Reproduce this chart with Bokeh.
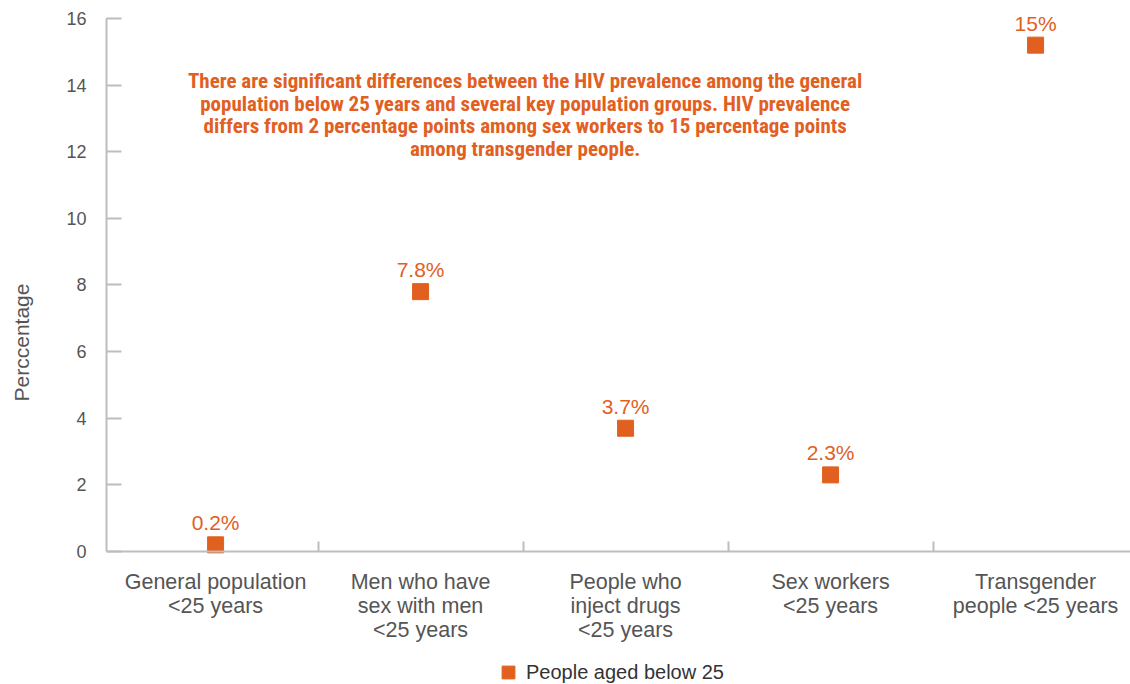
from bokeh.plotting import figure
from bokeh.models import (ColumnDataSource, FixedTicker, Range1d, Legend, LegendItem, LinearAxis)
from bokeh.core.properties import value
from bokeh.embed import file_html
from bokeh.resources import INLINE

categories = ["General population\n<25 years", "Men who have\nsex with men\n<25 years",
              "People who\ninject drugs\n<25 years", "Sex workers\n<25 years",
              "Transgender\npeople <25 years"]
values = [0.2, 7.8, 3.7, 2.3, 15.2]
labels = ["0.2%", "7.8%", "3.7%", "2.3%", "15%"]
series_name = "People aged below 25"
y_ticks = [0, 2, 4, 6, 8, 10, 12, 14, 16]
note = ("There are significant differences between the HIV prevalence among the general\n"
        "population below 25 years and several key population groups. HIV prevalence\n"
        "differs from 2 percentage points among sex workers to 15 percentage points\n"
        "among transgender people.")

ORANGE = "#E1601F"
GREY_AX = "#BDBDBD"
TXT = "#555555"
FONT = "Liberation Sans"

xs = list(range(len(categories)))
src = ColumnDataSource(dict(x=xs, y=values, lab=labels))

p = figure(width=1130, height=684, output_backend="svg", toolbar_location=None,
           x_range=Range1d(-0.532, 4.463), y_range=Range1d(-3.9925, 16.54),
           x_axis_location=None,
           min_border_left=106, min_border_right=0, min_border_top=0, min_border_bottom=0)
p.outline_line_color = None
p.grid.visible = False

r = p.scatter("x", "y", source=src, marker="square", size=16, color=ORANGE)
p.text("x", "y", text="lab", source=src, text_align="center", text_baseline="alphabetic",
       y_offset=-22, text_font=value(FONT), text_font_size="21px", text_color=ORANGE)

p.text(x=[1.51], y=[14.49], text=[note], text_align="center", text_baseline="top",
       text_font=value("Roboto Condensed"), text_font_style="bold",
       text_font_size="21px", text_color=ORANGE, text_line_height=0.95)

# y axis
ya = p.yaxis[0]
ya.ticker = FixedTicker(ticks=y_ticks)
ya.bounds = (0, 16)
ya.axis_line_color = GREY_AX
ya.axis_line_width = 2
ya.major_tick_line_color = GREY_AX
ya.major_tick_line_width = 2
ya.major_tick_in = 15
ya.major_tick_out = 0
ya.minor_tick_line_color = None
ya.major_label_standoff = 20
ya.major_label_text_font = FONT
ya.major_label_text_font_size = "18px"
ya.major_label_text_color = TXT
ya.axis_label = "Perccentage"
ya.axis_label_text_font = FONT
ya.axis_label_text_font_size = "21px"
ya.axis_label_text_font_style = "normal"
ya.axis_label_text_color = TXT
ya.axis_label_standoff = 30

# x axis, drawn at y = 0
xa = LinearAxis(fixed_location=0)
xa.ticker = FixedTicker(ticks=xs, minor_ticks=[0.5, 1.5, 2.5, 3.5])
xa.major_label_overrides = {i: c for i, c in enumerate(categories)}
xa.axis_line_color = GREY_AX
xa.axis_line_width = 2
xa.major_tick_line_color = None
xa.major_tick_in = 0
xa.major_tick_out = 0
xa.minor_tick_line_color = GREY_AX
xa.minor_tick_line_width = 2
xa.minor_tick_in = 10
xa.minor_tick_out = 0
xa.major_label_standoff = 19
xa.major_label_text_font = FONT
xa.major_label_text_font_size = "21.5px"
xa.major_label_text_color = TXT
xa.major_label_text_line_height = 1.0
p.add_layout(xa, "below")

legend = Legend(items=[LegendItem(label=series_name, renderers=[r])], location=(386, -4),
                orientation="horizontal", border_line_color=None, background_fill_alpha=0,
                label_text_font=FONT, label_text_font_size="20px", label_text_color="#333333",
                glyph_width=32, glyph_height=32, label_standoff=2, padding=0, margin=0)
p.add_layout(legend, "center")

open("out.html", "w").write(file_html(p, INLINE))
